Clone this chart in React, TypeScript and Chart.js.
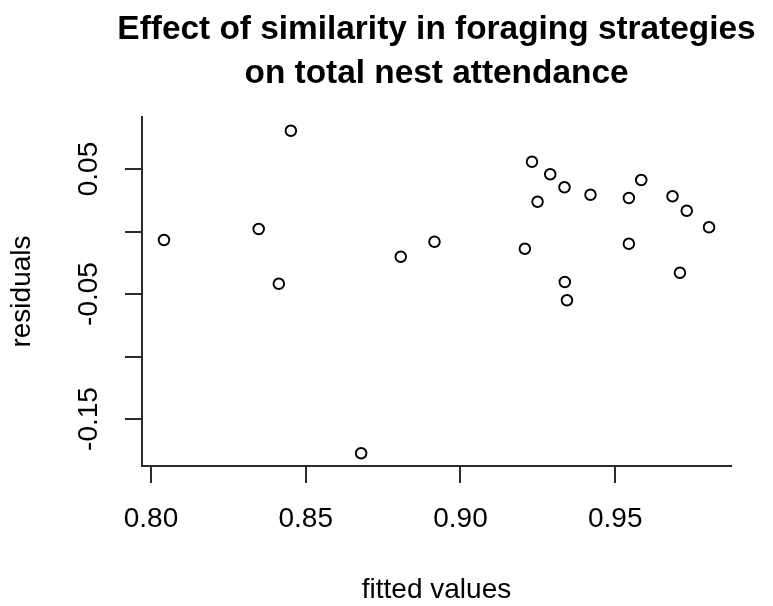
import React, { useEffect, useRef } from "react";
import { Chart, registerables } from "chart.js";

Chart.register(...registerables);

// ---- data ----
const titleLines = ["Effect of similarity in foraging strategies", "on total nest attendance"];
const xAxisTitle = "fitted values";
const yAxisTitle = "residuals";

const fittedValues = [
  0.8042, 0.8452, 0.8348, 0.8413, 0.8807, 0.8916, 0.9231, 0.929, 0.9336, 0.942, 0.9249,
  0.9584, 0.9544, 0.9685, 0.9731, 0.9803, 0.9544, 0.9208, 0.9709, 0.9337, 0.9344, 0.8679,
];
const residuals = [
  -0.0068, 0.0806, 0.002, -0.0418, -0.0202, -0.0082, 0.0558, 0.0458, 0.0354, 0.0294, 0.0238,
  0.0412, 0.0268, 0.0282, 0.0166, 0.0034, -0.0098, -0.0138, -0.033, -0.0404, -0.055, -0.1774,
];

const xTickValues = [0.8, 0.85, 0.9, 0.95];
const xTickLabels = ["0.80", "0.85", "0.90", "0.95"];
const yTickValues = [0.05, 0, -0.05, -0.1, -0.15];
const yTickLabels = ["0.05", "", "-0.05", "", "-0.15"];
const xLimits = [0.7971, 0.9874];
const yLimits = [-0.1876, 0.0916];

// ---- styling ----
const FONT = "'Liberation Sans', Arial, Helvetica, sans-serif";
const LINE = "#2b2b2b";

const titlePlugin = {
  id: "rStyleTitle",
  afterDraw(chart: any) {
    const { ctx, chartArea } = chart;
    const cx = (chartArea.left + chartArea.right) / 2;
    ctx.save();
    ctx.font = `bold 33.4px ${FONT}`;
    ctx.fillStyle = "#000";
    ctx.textAlign = "center";
    ctx.textBaseline = "alphabetic";
    const firstBaseline = 39;
    const gap = 43.7;
    titleLines.forEach((line, i) => ctx.fillText(line, cx, firstBaseline + i * gap));
    ctx.restore();
  },
};

export default function App() {
  const ref = useRef<HTMLCanvasElement | null>(null);

  useEffect(() => {
    if (!ref.current) return;
    const chart = new Chart(ref.current, {
      type: "scatter",
      data: {
        datasets: [
          {
            data: fittedValues.map((x, i) => ({ x, y: residuals[i] })),
            pointStyle: "circle",
            pointRadius: 5.3,
            pointHoverRadius: 5.3,
            borderWidth: 1.9,
            borderColor: "#000",
            backgroundColor: "rgba(0,0,0,0)",
          },
        ],
      },
      options: {
        responsive: false,
        animation: false,
        devicePixelRatio: 1,
        events: [],
        layout: { padding: { left: 0, right: 42, top: 117, bottom: 0 } },
        plugins: {
          legend: { display: false },
          tooltip: { enabled: false },
          title: { display: false },
        },
        scales: {
          x: {
            type: "linear",
            position: "bottom",
            min: xLimits[0],
            max: xLimits[1],
            afterBuildTicks: (s: any) => {
              s.ticks = xTickValues.map((v) => ({ value: v }));
            },
            afterFit: (s: any) => {
              s.height = 140;
            },
            ticks: {
              autoSkip: false,
              minRotation: 0,
              maxRotation: 0,
              padding: 19,
              color: "#000",
              font: { family: FONT, size: 28 },
              callback: (_v: any, i: number) => xTickLabels[i],
            },
            grid: {
              display: true,
              drawOnChartArea: false,
              drawTicks: true,
              tickLength: 17,
              tickWidth: 2,
              tickColor: LINE,
              lineWidth: 2,
              color: LINE,
            },
            border: { display: true, color: LINE, width: 2 },
            title: {
              display: true,
              text: xAxisTitle,
              color: "#000",
              font: { family: FONT, size: 28, lineHeight: 1.15 },
              padding: { top: 0, bottom: 0 },
            },
          },
          y: {
            type: "linear",
            position: "left",
            min: yLimits[0],
            max: yLimits[1],
            afterBuildTicks: (s: any) => {
              s.ticks = yTickValues.map((v) => ({ value: v }));
            },
            afterFit: (s: any) => {
              s.width = 142;
            },
            ticks: {
              autoSkip: false,
              minRotation: 90,
              maxRotation: 90,
              crossAlign: "center",
              padding: 3.6,
              color: "#000",
              font: { family: FONT, size: 28 },
              callback: (_v: any, i: number) => yTickLabels[i],
            },
            grid: {
              display: true,
              drawOnChartArea: false,
              drawTicks: true,
              tickLength: 17,
              tickWidth: 2,
              tickColor: LINE,
              lineWidth: 2,
              color: LINE,
            },
            border: { display: true, color: LINE, width: 2 },
            title: {
              display: true,
              text: yAxisTitle,
              color: "#000",
              font: { family: FONT, size: 28, lineHeight: 1.2 },
              padding: { top: 5.2, bottom: 0 },
            },
          },
        },
      },
      plugins: [titlePlugin],
    } as any);
    return () => chart.destroy();
  }, []);

  return (
    <canvas
      ref={ref}
      width={773}
      height={606}
      style={{ position: "absolute", left: 0, top: 0, width: 773, height: 606, display: "block" }}
    />
  );
}
